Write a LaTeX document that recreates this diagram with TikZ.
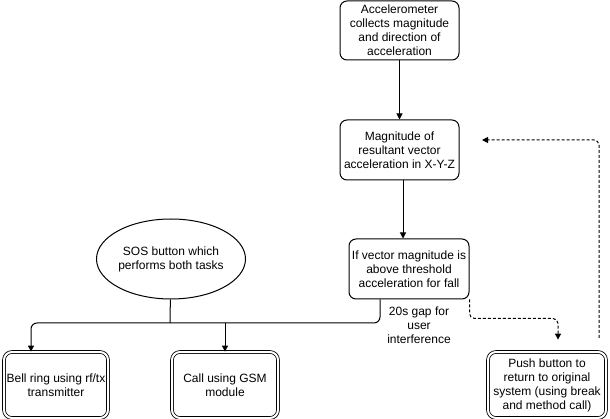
\documentclass[tikz,border=0pt]{standalone}
\usepackage{fontspec}
\setmainfont{Liberation Sans}
\usetikzlibrary{arrows.meta,shapes.geometric}
\begin{document}
\begin{tikzpicture}[x=1pt,y=-1pt,
  every node/.style={font=\fontsize{12}{14}\selectfont, align=center, inner sep=0pt},
  box/.style={draw, line width=1pt, rounded corners=7pt},
  dbox/.style={draw, line width=0.8pt, double, double distance=2pt, rounded corners=8pt},
  arr/.style={line width=1pt, -{Triangle[length=6pt,width=6pt]}},
  darr/.style={line width=1pt, dash pattern=on 3pt off 2pt, -{Triangle[length=6pt,width=6pt]}},
  plain/.style={line width=1pt}]
\useasboundingbox (0,0) rectangle (610,419);
\node[box, minimum width=119pt, minimum height=59pt] (acc) at (399.5,30.5) {Accelerometer\\collects magnitude\\and direction of\\acceleration};
\node[box, minimum width=119pt, minimum height=60pt] (mag) at (399.5,150) {Magnitude of\\resultant vector\\acceleration in X-Y-Z};
\node[box, minimum width=120pt, minimum height=60pt] (dec) at (409,269) {If vector magnitude is\\above threshold\\acceleration for fall};
\node[draw, ellipse, line width=1pt, minimum width=120pt, minimum height=80pt] (sos) at (171,259) {SOS button which\\performs both tasks};
\node[dbox, minimum width=104pt, minimum height=66pt] (bell) at (56,385) {Bell ring using rf/tx\\transmitter};
\node[dbox, minimum width=106pt, minimum height=66pt] (gsm) at (225,385) {Call using GSM\\module};
\node[dbox, minimum width=118pt, minimum height=66pt] (push) at (547,385) {Push button to\\return to original\\system (using break\\and method call)};
\node (gap) at (419,325) {20s gap for\\user\\interference};
\coordinate (j) at (170,323);
\coordinate (pstart) at (599,338);
\coordinate (magin) at (482,140);
\draw[arr] (acc) -- (mag);
\draw[arr] ([xshift=3.5pt]mag.south) -- ([xshift=3.5pt]mag.south |- dec.north);
\draw[arr, rounded corners=6pt] ([xshift=-29pt]dec.south) |- (j) -| ([xshift=-25pt]bell.north);
\draw[plain] (sos) -- (j);
\draw[arr] (j -| gsm.north) -- (gsm.north);
\draw[darr, rounded corners=5pt] (dec.south east) -- ++(0,19) -| ([xshift=11pt,yshift=12pt]push.north);
\draw[darr, rounded corners=5pt] (pstart) |- (magin);
\end{tikzpicture}
\end{document}
